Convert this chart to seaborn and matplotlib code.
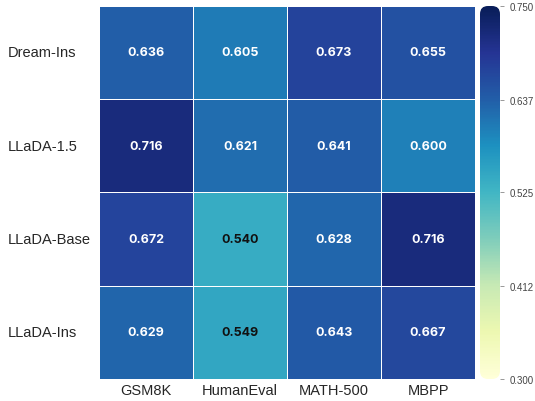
import matplotlib
matplotlib.use("Agg")
import matplotlib.pyplot as plt
from matplotlib.patches import FancyBboxPatch
import seaborn as sns
import numpy as np
import pandas as pd

models = ["Dream-Ins", "LLaDA-1.5", "LLaDA-Base", "LLaDA-Ins"]
benchmarks = ["GSM8K", "HumanEval", "MATH-500", "MBPP"]
dream_ins = [0.636, 0.605, 0.673, 0.655]
llada_15 = [0.716, 0.621, 0.641, 0.600]
llada_base = [0.672, 0.540, 0.628, 0.716]
llada_ins = [0.629, 0.549, 0.643, 0.667]
cbar_ticks = [0.300, 0.412, 0.525, 0.637, 0.750]

df = pd.DataFrame([dream_ins, llada_15, llada_base, llada_ins], index=models, columns=benchmarks)

sns.set_style("white")
plt.rcParams['font.family'] = ['Liberation Sans', 'DejaVu Sans']

fig = plt.figure(figsize=(5.35, 4.02), dpi=100)
ax = fig.add_axes([0.185, 0.055, 0.703, 0.928])
cax = fig.add_axes([0.897, 0.055, 0.038, 0.928])

sns.heatmap(df, ax=ax, cbar_ax=cax, cmap="YlGnBu", vmin=0.3, vmax=0.75,
            linewidths=0.6, linecolor="white", annot=False)

vals = df.values
for i in range(df.shape[0]):
    for j in range(df.shape[1]):
        v = vals[i, j]
        color = "#111111" if v < 0.56 else "white"
        ax.text(j + 0.5, i + 0.5, f"{v:.3f}", ha="center", va="center",
                fontsize=9, fontweight="bold", color=color, family=["Inter", "DejaVu Sans"])

ax.set_xlabel("")
ax.set_ylabel("")
ax.tick_params(axis="both", length=0, labelsize=10.5)
ax.tick_params(axis="x", pad=3)
ax.tick_params(axis="y", pad=65.5)
ax.set_yticklabels(models, rotation=0, ha="left")
ax.set_xticklabels(benchmarks, rotation=0)

cbar = ax.collections[0].colorbar
cbar.set_ticks(cbar_ticks)
cbar.set_ticklabels([f"{t:.3f}" for t in cbar_ticks])
cax.tick_params(labelsize=7, length=3, width=0.6, color="#888888", labelcolor="#444444")
for s in cax.spines.values():
    s.set_visible(False)
cbar.outline.set_visible(False)

# rounded ends of the colour bar
w_px = 0.038 * 535
h_px = 0.928 * 402
clip = FancyBboxPatch((0, 0), 1, 1, boxstyle="round,pad=0,rounding_size=0.4",
                      mutation_aspect=w_px / h_px, transform=cax.transAxes,
                      facecolor="none", edgecolor="none")
cax.add_patch(clip)
cbar.solids.set_clip_path(clip)

fig.savefig("out.png", dpi=100)
